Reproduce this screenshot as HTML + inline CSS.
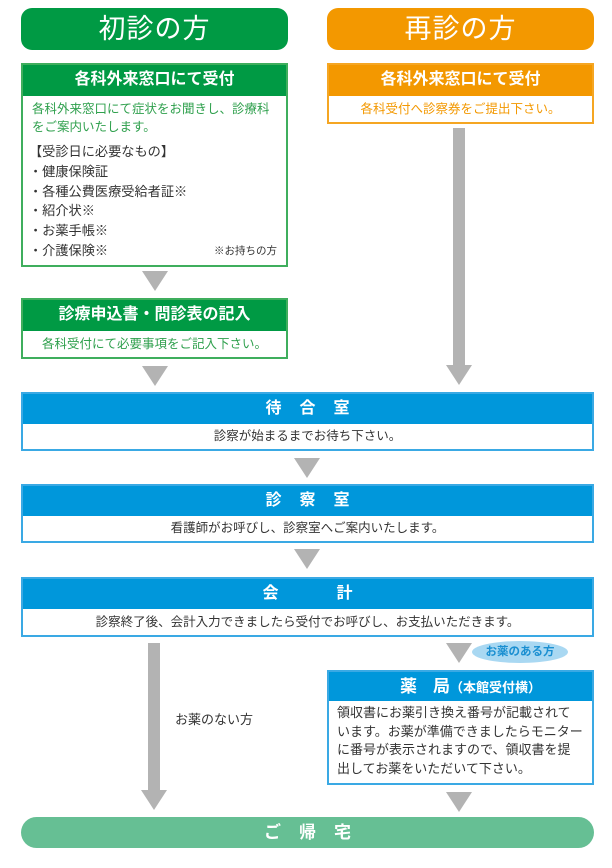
<!DOCTYPE html>
<html><head><meta charset="utf-8"><style>
*{margin:0;padding:0;box-sizing:border-box}
body{width:612px;height:868px;background:#fff;position:relative;overflow:hidden;font-family:"Liberation Sans","Noto Sans CJK JP",sans-serif}
.a{position:absolute}
.pill{position:absolute;border-radius:11px;color:#fff;font-size:27px;text-align:center;line-height:42px;letter-spacing:1px}
.box{position:absolute;border:2px solid}
.hd{color:#fff;font-size:16px;font-weight:bold;text-align:center}
.tri{position:absolute;width:0;height:0;border-left:13px solid transparent;border-right:13px solid transparent;border-top:20px solid #b3b3b3}
.bar{position:absolute;background:#b3b3b3;width:12px}
.g{border-color:#3fae5d}.g .hd{background:#009a44}
.o{border-color:#f5a623}.o .hd{background:#f39800}
.b{border-color:#3aa9e4}.b .hd{background:#0097db;letter-spacing:18px}
.t{font-size:12.5px;color:#333;text-align:center}
</style></head><body>
<div class="pill" style="left:21px;top:8px;width:267px;height:42px;background:#009a44">初診の方</div>
<div class="pill" style="left:327px;top:8px;width:267px;height:42px;background:#f39800">再診の方</div>

<div class="box g" style="left:21px;top:63px;width:267px;height:204px">
<div class="hd" style="height:31px;line-height:30px">各科外来窓口にて受付</div>
<div style="padding:4px 0 0 9px;font-size:12.5px;line-height:18px;color:#2fa04d">各科外来窓口にて症状をお聞きし、診療科<br>をご案内いたします。</div>
<div style="padding:6px 0 0 6px;font-size:13.2px;line-height:19.8px;color:#333">【受診日に必要なもの】<br>・健康保険証<br>・各種公費医療受給者証※<br>・紹介状※<br>・お薬手帳※<br>・介護保険※</div>
<div class="a" style="right:9px;bottom:7px;font-size:10.5px;color:#333">※お持ちの方</div>
</div>

<div class="box o" style="left:327px;top:63px;width:267px;height:61px">
<div class="hd" style="height:31px;line-height:30px">各科外来窓口にて受付</div>
<div style="text-align:center;font-size:12.5px;color:#f39800;line-height:26px">各科受付へ診察券をご提出下さい。</div>
</div>

<div class="tri" style="left:142px;top:271px"></div>
<div class="box g" style="left:21px;top:298px;width:267px;height:61px">
<div class="hd" style="height:31px;line-height:30px">診療申込書・問診表の記入</div>
<div style="text-align:center;font-size:12.5px;color:#2fa04d;line-height:26px">各科受付にて必要事項をご記入下さい。</div>
</div>
<div class="tri" style="left:142px;top:366px"></div>

<div class="bar" style="left:453px;top:128px;height:240px"></div>
<div class="tri" style="left:446px;top:365px"></div>

<div class="box b" style="left:21px;top:392px;width:573px;height:59px">
<div class="hd" style="height:30px;line-height:29px;padding-left:18px">待合室</div>
<div class="t" style="line-height:25px">診察が始まるまでお待ち下さい。</div></div>
<div class="tri" style="left:294px;top:458px"></div>
<div class="box b" style="left:21px;top:484px;width:573px;height:59px">
<div class="hd" style="height:30px;line-height:29px;padding-left:18px">診察室</div>
<div class="t" style="line-height:25px">看護師がお呼びし、診察室へご案内いたします。</div></div>
<div class="tri" style="left:294px;top:549px"></div>
<div class="box b" style="left:21px;top:577px;width:573px;height:60px">
<div class="hd" style="height:30px;line-height:29px;letter-spacing:0"><span style="margin-right:58px">会</span>計</div>
<div class="t" style="line-height:26px">診察終了後、会計入力できましたら受付でお呼びし、お支払いただきます。</div></div>

<div class="bar" style="left:148px;top:643px;height:150px"></div>
<div class="tri" style="left:141px;top:790px"></div>
<div class="a" style="left:175px;top:709px;font-size:13px;color:#333">お薬のない方</div>

<div class="tri" style="left:446px;top:643px"></div>
<div class="a" style="left:472px;top:641px;width:96px;height:22px;border-radius:50%;background:#a9d8f2;color:#1a8fd1;font-size:11.5px;font-weight:bold;text-align:center;line-height:22px">お薬のある方</div>

<div class="box b" style="left:327px;top:670px;width:267px;height:115px">
<div class="hd" style="height:29px;line-height:29px;letter-spacing:0;padding-left:20px"><span style="font-size:17px">薬</span>　<span style="font-size:17px">局</span><span style="font-size:13px">（本館受付横）</span></div>
<div style="padding:3px 0 0 8px;font-size:13px;line-height:18.5px;color:#333;letter-spacing:0">領収書にお薬引き換え番号が記載されて<br>います。お薬が準備できましたらモニター<br>に番号が表示されますので、領収書を提<br>出してお薬をいただいて下さい。</div>
</div>
<div class="tri" style="left:446px;top:792px"></div>

<div class="a" style="left:21px;top:817px;width:573px;height:31px;border-radius:16px;background:#66bf94;color:#fff;font-size:17px;font-weight:bold;text-align:center;line-height:31px;letter-spacing:18px;padding-left:18px">ご帰宅</div>
</body></html>
